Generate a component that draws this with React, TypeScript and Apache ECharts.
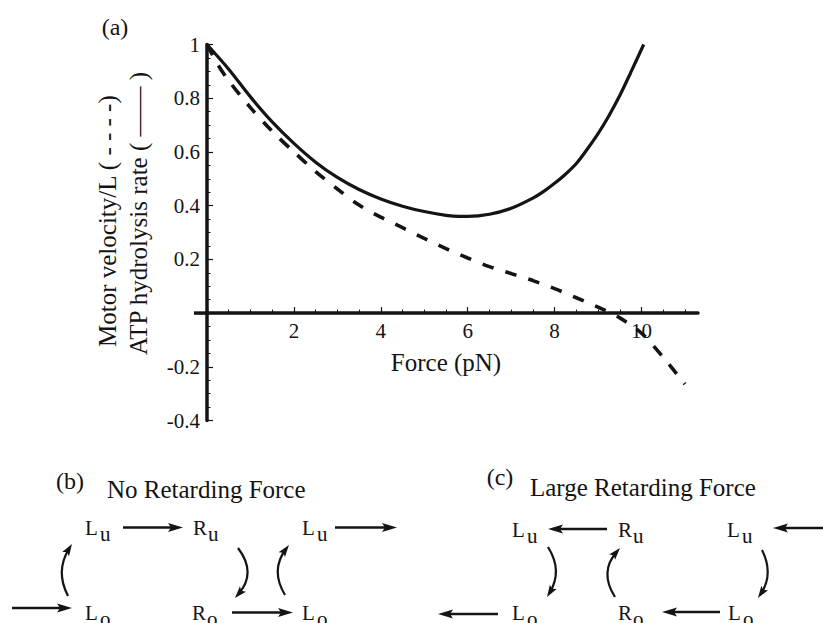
import React, { useEffect, useRef } from "react";
import * as echarts from "echarts";

// ---------- data ----------
const atpForce = [0, 0.5, 1, 1.5, 2, 2.5, 3, 3.5, 4, 4.5, 5, 5.5, 5.8, 6, 6.5, 7, 7.5, 7.75, 8, 8.25, 8.5, 8.75, 9, 9.25, 9.5, 9.75, 10.05];
const atpRate = [1.0, 0.908, 0.805, 0.712, 0.632, 0.562, 0.505, 0.46, 0.425, 0.398, 0.378, 0.364, 0.36, 0.36, 0.368, 0.39, 0.428, 0.453, 0.483, 0.517, 0.557, 0.61, 0.668, 0.735, 0.81, 0.895, 1.0];

const velForce = [0, 0.25, 0.5, 1, 1.5, 2, 2.5, 3, 3.5, 4, 4.5, 5, 5.5, 6, 6.5, 7, 7.5, 8, 8.5, 9, 9.5, 10, 10.5, 11];
const velocity = [1.0, 0.925, 0.865, 0.765, 0.677, 0.6, 0.527, 0.462, 0.402, 0.357, 0.318, 0.278, 0.24, 0.205, 0.173, 0.147, 0.121, 0.091, 0.057, 0.022, -0.018, -0.075, -0.165, -0.265];

const xMajorTicks = [0, 2, 4, 6, 8, 10];
const xLabelValues = [2, 4, 6, 8, 10];
const xMinorTicks = [0.5, 1, 1.5, 2.5, 3, 3.5, 4.5, 5, 5.5, 6.5, 7, 7.5, 8.5, 9, 9.5, 10.5, 11];
const xRange = [0, 11.3];
const yRange = [-0.4, 1.0];

const yTitleLines = ["Motor velocity/L ( - - - -)", "ATP hydrolysis rate ( \u2014\u2014 )"];
const xTitle = "Force (pN)";
const panelLabels = ["(a)", "(b)", "(c)"];
const panelTitles = ["No Retarding Force", "Large Retarding Force"];

// ---------- drawing helpers ----------
const FONT = "'Liberation Serif', 'Times New Roman', Times, serif";
const INK = "#141414";

function txt(text: string, x: number, y: number, size: number, align = "left", rotation = 0) {
  return {
    type: "text",
    x,
    y,
    rotation,
    silent: true,
    style: {
      text,
      fontSize: size,
      fontFamily: FONT,
      fill: INK,
      textAlign: align,
      textVerticalAlign: "middle",
      align,
      verticalAlign: "middle",
    },
  };
}

function head(tx: number, ty: number, dx: number, dy: number, len = 15, half = 4.5) {
  const m = Math.hypot(dx, dy);
  const ux = dx / m, uy = dy / m;
  const bx = tx - ux * len, by = ty - uy * len;
  return {
    type: "polygon",
    silent: true,
    shape: { points: [[tx, ty], [bx - uy * half, by + ux * half], [tx - ux * len * 0.8, ty - uy * len * 0.8], [bx + uy * half, by - ux * half]] },
    style: { fill: INK },
  };
}

function arrow(x1: number, y1: number, x2: number, y2: number) {
  const dx = x2 - x1, dy = y2 - y1;
  const m = Math.hypot(dx, dy);
  return [
    {
      type: "line",
      silent: true,
      shape: { x1, y1, x2: x2 - (dx / m) * 8, y2: y2 - (dy / m) * 8 },
      style: { stroke: INK, lineWidth: 2.6 },
    },
    head(x2, y2, dx, dy),
  ];
}

function curved(x1: number, y1: number, cx: number, cy: number, x2: number, y2: number) {
  const dx = x2 - cx, dy = y2 - cy;
  const m = Math.hypot(dx, dy);
  return [
    {
      type: "bezierCurve",
      silent: true,
      shape: { x1, y1, cpx1: cx, cpy1: cy, x2: x2 - (dx / m) * 5, y2: y2 - (dy / m) * 5 },
      style: { stroke: INK, lineWidth: 2.2, fill: null },
    },
    head(x2, y2, dx, dy, 12, 4),
  ];
}

function node(letter: string, sub: string, x: number, y: number) {
  return [txt(letter, x, y, 21), txt(sub, x + 15, y + 6, 21)];
}

function diagramElements() {
  const els: any[] = [];
  els.push(txt(panelLabels[0], 115, 27, 24, "center"));
  els.push(txt(panelLabels[1], 70, 481, 24, "center"));
  els.push(txt(panelTitles[0], 107, 489, 25));
  els.push(txt(panelLabels[2], 500, 477, 24, "center"));
  els.push(txt(panelTitles[1], 530, 487, 25));

  // (b) No retarding force
  els.push(...node("L", "u", 85, 528));
  els.push(...node("R", "u", 193, 528));
  els.push(...node("L", "u", 302, 528));
  els.push(...node("L", "o", 85, 613));
  els.push(...node("R", "o", 192, 613));
  els.push(...node("L", "o", 302, 613));
  els.push(...arrow(123, 527.5, 183, 527.5));
  els.push(...arrow(335, 527.5, 397, 527.5));
  els.push(...arrow(12, 608, 72, 608));
  els.push(...arrow(232, 612.5, 293, 612.5));
  els.push(...curved(68, 596, 55, 571, 72, 544));
  els.push(...curved(238, 548, 257, 573, 235, 598));
  els.push(...curved(285, 595, 270, 570, 289, 545));

  // (c) Large retarding force
  els.push(...node("L", "u", 512, 530));
  els.push(...node("R", "u", 618, 530));
  els.push(...node("L", "u", 727, 530));
  els.push(...node("L", "o", 512, 613));
  els.push(...node("R", "o", 618, 613));
  els.push(...node("L", "o", 728, 613));
  els.push(...arrow(607, 529, 548, 529));
  els.push(...arrow(823, 528, 773, 528));
  els.push(...arrow(498, 614, 438, 614));
  els.push(...arrow(720, 612, 662, 612));
  els.push(...curved(548, 547, 563, 571, 547, 597));
  els.push(...curved(615, 597, 599, 572, 620, 548));
  els.push(...curved(762, 550, 774, 574, 758, 598));

  // axis titles
  els.push(txt(yTitleLines[0], 107, 347, 25, "left", Math.PI / 2));
  els.push(txt(yTitleLines[1], 138, 355, 25, "left", Math.PI / 2));
  els.push(txt(xTitle, 446, 362, 25, "center"));
  return els;
}

function buildXAxes(offset: number) {
  const labelStyle = { color: INK, fontSize: 21, fontFamily: FONT };
  return [
    {
      type: "value",
      min: xRange[0],
      max: xRange[1],
      interval: 2,
      offset,
      axisLine: { show: true, onZero: false, lineStyle: { color: INK, width: 3.5 } },
      axisTick: { show: true, inside: true, length: 6, customValues: xMajorTicks, lineStyle: { color: INK, width: 1.2 } },
      axisLabel: {
        customValues: xLabelValues,
        margin: 7,
        ...labelStyle,
        formatter: (v: number) => (v > 0 && v <= 10.01 && Math.abs(v / 2 - Math.round(v / 2)) < 1e-6 ? String(v) : ""),
      },
      splitLine: { show: false },
    },
    {
      type: "value",
      gridIndex: 0,
      position: "bottom",
      min: xRange[0],
      max: xRange[1],
      offset,
      axisLine: { show: false, onZero: false },
      axisTick: { show: true, inside: true, length: 3.5, customValues: xMinorTicks, lineStyle: { color: INK, width: 1 } },
      axisLabel: { show: false },
      splitLine: { show: false },
    },
  ];
}

export default function App() {
  const ref = useRef<HTMLDivElement>(null);

  useEffect(() => {
    if (!ref.current) return;
    const chart = echarts.init(ref.current, undefined, { renderer: "svg" });
    const labelStyle = { color: INK, fontSize: 21, fontFamily: FONT };

    chart.setOption({
      animation: false,
      backgroundColor: "#ffffff",
      textStyle: { fontFamily: FONT },
      grid: { left: 207, right: 125, top: 44.5, bottom: 202.5, containLabel: false },
      xAxis: buildXAxes(0),
      yAxis: {
        type: "value",
        min: yRange[0],
        max: yRange[1],
        interval: 0.2,
        axisLine: { show: true, onZero: false, lineStyle: { color: INK, width: 3.5 } },
        axisTick: { show: true, inside: true, length: 6, lineStyle: { color: INK, width: 1.2 } },
        minorTick: { show: true, splitNumber: 4, length: 3.5, lineStyle: { color: INK, width: 1 } },
        axisLabel: {
          margin: 7,
          ...labelStyle,
          formatter: (v: number) => (Math.abs(v) < 1e-9 ? "" : String(Math.round(v * 10) / 10)),
        },
        splitLine: { show: false },
        minorSplitLine: { show: false },
      },
      series: [
        {
          name: "ATP hydrolysis rate",
          type: "line",
          xAxisIndex: 0,
          data: atpForce.map((x, i) => [x, atpRate[i]]),
          showSymbol: false,
          smooth: 0.3,
          clip: false,
          lineStyle: { color: INK, width: 3.2, type: "solid", cap: "butt" },
          z: 3,
        },
        {
          name: "Motor velocity/L",
          type: "line",
          xAxisIndex: 0,
          data: velForce.map((x, i) => [x, velocity[i]]),
          showSymbol: false,
          smooth: 0.3,
          clip: false,
          lineStyle: { color: INK, width: 3.6, type: [12, 12], cap: "butt" },
          z: 3,
        },
      ],
      graphic: diagramElements(),
    });

    // move the x axis up onto y = 0 and extend its line a little left of the origin
    const pZero = chart.convertToPixel({ xAxisIndex: 0, yAxisIndex: 0 }, [0, 0]) as number[];
    const pBottom = chart.convertToPixel({ xAxisIndex: 0, yAxisIndex: 0 }, [0, yRange[0]]) as number[];
    const pLeft = chart.convertToPixel({ xAxisIndex: 0, yAxisIndex: 0 }, [-0.3, 0]) as number[];
    if (pZero && pBottom && pLeft) {
      const offset = -(pBottom[1] - pZero[1]);
      chart.setOption(
        {
          xAxis: buildXAxes(offset),
          graphic: [
            ...diagramElements(),
            {
              type: "line",
              silent: true,
              shape: { x1: pLeft[0], y1: pLeft[1], x2: pZero[0], y2: pZero[1] },
              style: { stroke: INK, lineWidth: 3.5 },
            },
          ],
        },
        { replaceMerge: ["graphic"] }
      );
    }

    return () => chart.dispose();
  }, []);

  return (
    <div
      ref={ref}
      style={{ position: "absolute", left: 0, top: 0, width: 823, height: 623, background: "#fff" }}
    />
  );
}
